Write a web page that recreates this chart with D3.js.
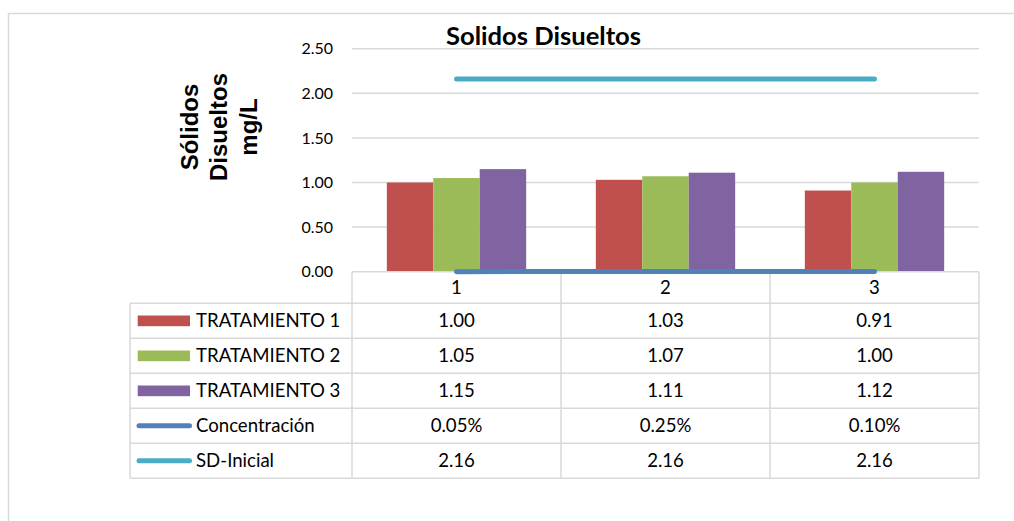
<!DOCTYPE html>
<html>
<head>
<meta charset="utf-8">
<script src="https://cdn.jsdelivr.net/npm/d3@7"></script>
<style>
  html, body { margin: 0; padding: 0; background: #fff; }
  svg { display: block; }
</style>
</head>
<body>
<svg id="chart" width="1014" height="521"></svg>
<script>
// ---- data ----
const categories = ["1", "2", "3"];
const barSeries = ["TRATAMIENTO 1", "TRATAMIENTO 2", "TRATAMIENTO 3"];
const tratamiento1 = [1.00, 1.03, 0.91];
const tratamiento2 = [1.05, 1.07, 1.00];
const tratamiento3 = [1.15, 1.11, 1.12];
const concentracion = [0.0005, 0.0025, 0.0010];
const sdInicial = [2.16, 2.16, 2.16];
const yTicks = [0, 0.5, 1.0, 1.5, 2.0, 2.5];
const chartTitle = "Solidos Disueltos";
const yAxisLines = ["Sólidos", "Disueltos", "mg/L"];

const barValues = [tratamiento1, tratamiento2, tratamiento3];
const barColors = ["#C0504D", "#9BBB59", "#8064A2"];
const lineSeries = [
  { name: "Concentración", values: concentracion, color: "#4F81BD", fmt: d3.format(".2%") },
  { name: "SD-Inicial", values: sdInicial, color: "#4BACC6", fmt: d3.format(".2f") }
];

const svg = d3.select("#chart");
const gridColor = "#D9D9D9";

// outer chart frame (extends past the window on right/bottom)
svg.append("rect")
  .attr("x", 8.5).attr("y", 13.5)
  .attr("width", 1100).attr("height", 600)
  .attr("fill", "none").attr("stroke", gridColor).attr("stroke-width", 1.5);

// ---- scales ----
const plotLeft = 352, plotRight = 979;
const y = d3.scaleLinear().domain([0, 2.5]).range([271.7, 48.7]);
const x = d3.scaleBand().domain(categories).range([plotLeft, plotRight]).paddingInner(0).paddingOuter(0);
const xSub = d3.scaleBand().domain(barSeries).range([0, x.bandwidth()]).paddingInner(0).paddingOuter(0.75);

// ---- gridlines ----
svg.append("g").selectAll("line").data(yTicks.filter(t => t > 0)).join("line")
  .attr("x1", plotLeft).attr("x2", plotRight)
  .attr("y1", d => y(d)).attr("y2", d => y(d))
  .attr("stroke", gridColor).attr("stroke-width", 1.5);

// y axis tick labels
const yAxis = d3.axisLeft(y).tickValues(yTicks).tickFormat(d3.format(".2f")).tickSize(0).tickPadding(19);
const yG = svg.append("g").attr("transform", `translate(${plotLeft},0)`).call(yAxis);
yG.select(".domain").remove();
yG.selectAll("text")
  .attr("font-family", "Lato, sans-serif").attr("font-size", 16).attr("fill", "#000");

// ---- bars ----
barSeries.forEach((s, si) => {
  svg.append("g").selectAll("rect").data(categories).join("rect")
    .attr("x", (c) => x(c) + xSub(s))
    .attr("width", xSub.bandwidth())
    .attr("y", (c, i) => y(barValues[si][i]))
    .attr("height", (c, i) => y(0) - y(barValues[si][i]))
    .attr("fill", barColors[si]);
});

// ---- title ----
svg.append("text")
  .attr("x", 543.5).attr("y", 45)
  .attr("text-anchor", "middle")
  .attr("font-family", "Lato, sans-serif").attr("font-weight", "bold").attr("font-size", 25.6)
  .attr("fill", "#000")
  .text(chartTitle);

// ---- y axis title ----
const yTitle = svg.append("g").attr("transform", "translate(0,127) rotate(-90)");
const baselines = [198, 227, 257];
yTitle.selectAll("text").data(yAxisLines).join("text")
  .attr("x", 0).attr("y", (d, i) => baselines[i])
  .attr("text-anchor", "middle")
  .attr("font-family", "Liberation Sans, Arial, sans-serif").attr("font-weight", "bold").attr("font-size", 24)
  .attr("fill", "#000")
  .text(d => d);

// ---- data table ----
const tableLeft = 130;
const headerTop = y(0), headerBottom = 303.3;
const rowH = 35;
const rows = [
  ...barSeries.map((s, i) => ({ name: s, kind: "bar", color: barColors[i], values: barValues[i], fmt: d3.format(".2f") })),
  ...lineSeries.map(ls => ({ name: ls.name, kind: "line", color: ls.color, values: ls.values, fmt: ls.fmt }))
];
const tableBottom = headerBottom + rows.length * rowH;
const tg = svg.append("g");
const tFont = { family: "Lato, sans-serif", size: 18.6 };

// horizontal rules
tg.append("line").attr("x1", plotLeft).attr("x2", plotRight).attr("y1", headerTop).attr("y2", headerTop)
  .attr("stroke", gridColor).attr("stroke-width", 1.5);
d3.range(rows.length + 1).forEach(i => {
  const yy = headerBottom + i * rowH;
  tg.append("line").attr("x1", tableLeft).attr("x2", plotRight).attr("y1", yy).attr("y2", yy)
    .attr("stroke", gridColor).attr("stroke-width", 1.5);
});
// vertical rules
tg.append("line").attr("x1", tableLeft).attr("x2", tableLeft).attr("y1", headerBottom).attr("y2", tableBottom)
  .attr("stroke", gridColor).attr("stroke-width", 1.5);
[...categories.map(c => x(c)), plotRight].forEach(xx => {
  tg.append("line").attr("x1", xx).attr("x2", xx).attr("y1", headerTop).attr("y2", tableBottom)
    .attr("stroke", gridColor).attr("stroke-width", 1.5);
});

// header: category labels
tg.selectAll("text.cat").data(categories).join("text").attr("class", "cat")
  .attr("x", c => x(c) + x.bandwidth() / 2)
  .attr("y", (headerTop + headerBottom) / 2)
  .attr("dy", "0.36em")
  .attr("text-anchor", "middle")
  .attr("font-family", tFont.family).attr("font-size", tFont.size).attr("fill", "#000")
  .text(c => c);

rows.forEach((r, ri) => {
  const cy = headerBottom + ri * rowH + rowH / 2;
  if (r.kind === "bar") {
    tg.append("rect").attr("x", 137.7).attr("y", cy - 5.3).attr("width", 52.3).attr("height", 10.7).attr("fill", r.color);
  } else {
    tg.append("line").attr("x1", 139).attr("x2", 189.5).attr("y1", cy).attr("y2", cy)
      .attr("stroke", r.color).attr("stroke-width", 5).attr("stroke-linecap", "round");
  }
  tg.append("text").attr("x", 196).attr("y", cy).attr("dy", "0.36em")
    .attr("font-family", tFont.family).attr("font-size", tFont.size).attr("fill", "#000")
    .text(r.name);
  tg.selectAll(null).data(r.values).join("text")
    .attr("x", (d, i) => x(categories[i]) + x.bandwidth() / 2)
    .attr("y", cy).attr("dy", "0.36em")
    .attr("text-anchor", "middle")
    .attr("font-family", tFont.family).attr("font-size", tFont.size).attr("fill", "#000")
    .text(d => r.fmt(d));
});

// ---- line series (drawn on top of the axis rule) ----
lineSeries.forEach(ls => {
  const line = d3.line()
    .x((d, i) => x(categories[i]) + x.bandwidth() / 2)
    .y(d => y(d));
  svg.append("path")
    .datum(ls.values)
    .attr("d", line)
    .attr("fill", "none")
    .attr("stroke", ls.color)
    .attr("stroke-width", 5)
    .attr("stroke-linecap", "round")
    .attr("stroke-linejoin", "round");
});
</script>
</body>
</html>
